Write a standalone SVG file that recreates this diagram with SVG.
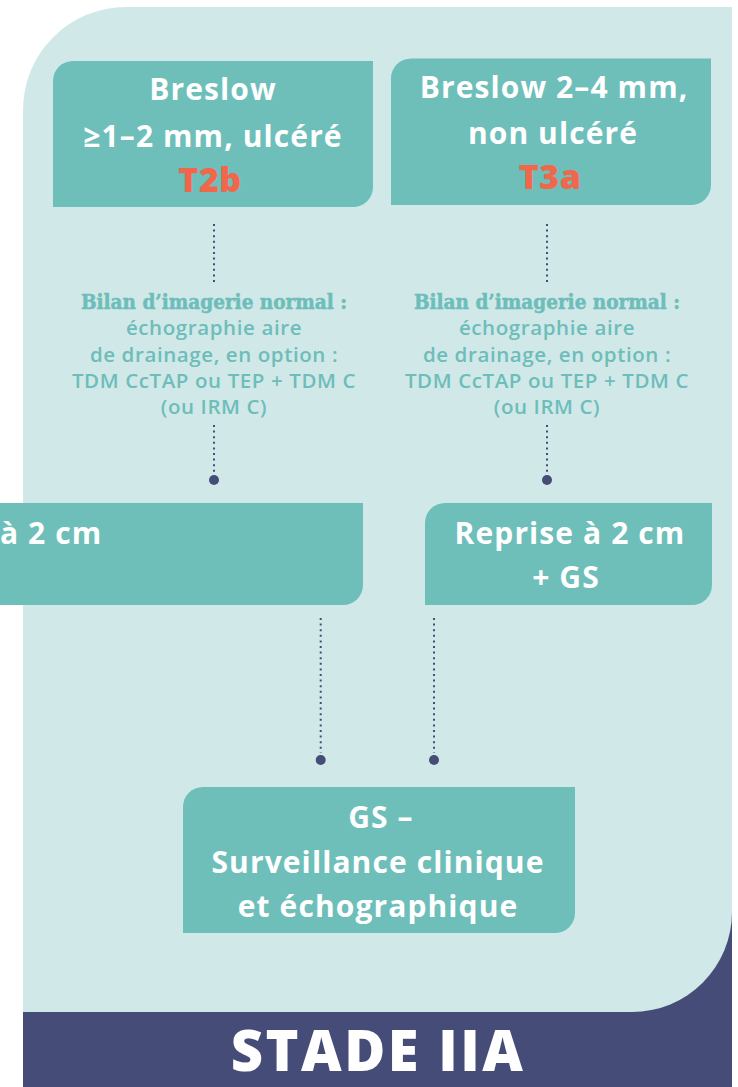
<svg xmlns="http://www.w3.org/2000/svg" width="738" height="1087" viewBox="0 0 738 1087">
<style>
.box{fill:#6EBEBA}
.bt{font-family:"Open Sans","Noto Sans",sans-serif;font-weight:700;font-size:30px;letter-spacing:1.1px;fill:#FFFFFF;text-anchor:middle}
.tag{font-family:"Open Sans","Noto Sans",sans-serif;font-weight:800;font-size:34px;letter-spacing:0.5px;fill:#F0674B;text-anchor:middle}
.slab{font-family:"DejaVu Serif",serif;font-weight:700;font-size:20px;fill:#6DBDB9;stroke:#6DBDB9;stroke-width:0.5;text-anchor:middle}
.lt{font-family:"Open Sans","Noto Sans",sans-serif;font-weight:600;font-size:20.5px;letter-spacing:0.6px;fill:#6DBDB9;text-anchor:middle}
.dl{stroke:#444C77;stroke-width:2;stroke-dasharray:2 3.6;fill:none}
.dot{fill:#444C77}
</style>
<g id="background">
<rect x="23" y="900" width="709" height="187" fill="#444C77"/>
<path d="M23 1012 V110 A103 103 0 0 1 126 7 H732 V912 A100 100 0 0 1 632 1012 Z" fill="#D1E8E9"/>
</g>
<g id="node-t2b">
<path class="box" d="M53 81 A20 20 0 0 1 73 61 H373 V187 A20 20 0 0 1 353 207 H53 Z"/>
<text class="bt" x="213" y="100">Breslow</text>
<text class="bt" x="213" y="147">≥1–2 mm, ulcéré</text>
<text class="tag" x="210" y="192">T2b</text>
</g>
<g id="node-t3a">
<path class="box" d="M391 78.5 A20 20 0 0 1 411 58.5 H711 V185 A20 20 0 0 1 691 205 H391 Z"/>
<text class="bt" x="554" y="98">Breslow 2–4 mm,</text>
<text class="bt" x="553" y="144">non ulcéré</text>
<text class="tag" x="550" y="189">T3a</text>
</g>
<g id="label-left">
<text class="slab" x="214" y="308.5" textLength="266" lengthAdjust="spacingAndGlyphs">Bilan d’imagerie normal :</text>
<text class="lt" x="214" y="335">échographie aire</text>
<text class="lt" x="214" y="361.5">de drainage, en option :</text>
<text class="lt" x="214" y="388">TDM CcTAP ou TEP + TDM C</text>
<text class="lt" x="214" y="414">(ou IRM C)</text>
</g>
<g id="label-right">
<text class="slab" x="547" y="308.5" textLength="266" lengthAdjust="spacingAndGlyphs">Bilan d’imagerie normal :</text>
<text class="lt" x="547" y="335">échographie aire</text>
<text class="lt" x="547" y="361.5">de drainage, en option :</text>
<text class="lt" x="547" y="388">TDM CcTAP ou TEP + TDM C</text>
<text class="lt" x="547" y="414">(ou IRM C)</text>
</g>
<g id="node-reprise-left">
<path class="box" d="M-20 503 H363 V585 A20 20 0 0 1 343 605 H-20 Z"/>
<text class="bt" x="0" y="544" style="text-anchor:start">à 2 cm</text>
</g>
<g id="node-reprise-right">
<path class="box" d="M425 523 A20 20 0 0 1 445 503 H712 V585 A20 20 0 0 1 692 605 H425 Z"/>
<text class="bt" x="570" y="544">Reprise à 2 cm</text>
<text class="bt" x="566" y="588">+ GS</text>
</g>
<g id="node-gs">
<path class="box" d="M183 807 A20 20 0 0 1 203 787 H575 V913 A20 20 0 0 1 555 933 H183 Z"/>
<text class="bt" x="381" y="828">GS –</text>
<text class="bt" x="378" y="873">Surveillance clinique</text>
<text class="bt" x="378" y="917">et échographique</text>
</g>
<g id="connectors">
<line class="dl" x1="214" y1="224" x2="214" y2="283"/>
<line class="dl" x1="214" y1="425" x2="214" y2="473"/>
<circle class="dot" cx="214" cy="480" r="5"/>
<line class="dl" x1="547" y1="224" x2="547" y2="283"/>
<line class="dl" x1="547" y1="425" x2="547" y2="473"/>
<circle class="dot" cx="547" cy="480" r="5"/>
<line class="dl" x1="320.7" y1="618" x2="320.7" y2="753"/>
<circle class="dot" cx="320.7" cy="760" r="5"/>
<line class="dl" x1="434" y1="618" x2="434" y2="753"/>
<circle class="dot" cx="434" cy="760" r="5"/>
</g>
<g id="title">
<text x="378" y="1071" font-family="'Open Sans','Noto Sans',sans-serif" font-weight="800" font-size="56" letter-spacing="2.5" fill="#FFFFFF" text-anchor="middle">STADE IIA</text>
</g>
</svg>
